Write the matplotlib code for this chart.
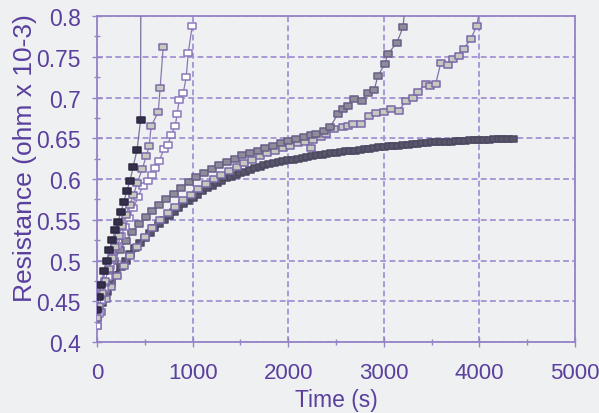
import matplotlib
matplotlib.use("Agg")
import matplotlib.pyplot as plt
from matplotlib.path import Path
from matplotlib.ticker import MultipleLocator

plt.rcParams['font.family'] = ['Liberation Sans', 'DejaVu Sans']

# series A: dark filled squares, fails before 500 s
a_time = [0, 20, 45, 70, 100, 130, 160, 190, 220, 250, 280, 310, 346, 377, 419, 455, 472]
a_res = [0.44, 0.456, 0.47, 0.487, 0.5, 0.513, 0.525, 0.537, 0.548, 0.56, 0.572, 0.585,
         0.598, 0.615, 0.636, 0.672, 1.5]

# series B: grey filled squares, ends near 700 s
b_time = [0, 25, 55, 85, 120, 155, 190, 225, 260, 300, 340, 380, 420, 472, 514, 545, 566,
          640, 660, 692]
b_res = [0.43, 0.445, 0.46, 0.475, 0.49, 0.503, 0.517, 0.53, 0.543, 0.556, 0.568, 0.58,
         0.595, 0.612, 0.628, 0.64, 0.665, 0.682, 0.712, 0.762]

# series C: open squares, ends near 1000 s
c_time = [0, 20, 45, 75, 110, 140, 170, 210, 250, 290, 330, 380, 430, 480, 530, 570, 610,
          650, 700, 740, 776, 818, 838, 860, 902, 933, 954, 996]
c_res = [0.42, 0.435, 0.45, 0.465, 0.48, 0.493, 0.505, 0.518, 0.53, 0.541, 0.552, 0.565,
         0.578, 0.592, 0.598, 0.605, 0.613, 0.622, 0.637, 0.642, 0.654, 0.665, 0.68, 0.697,
         0.706, 0.725, 0.755, 0.788]

# series D: dense dark squares, levels off around 0.65
d_time = [0, 50, 100, 150, 200, 250, 300, 350, 400, 450, 500, 550, 600, 650, 700, 750,
          800, 850, 900, 950, 1000, 1050, 1100, 1150, 1200, 1250, 1300, 1350, 1400, 1450,
          1500, 1550, 1600, 1650, 1700, 1750, 1800, 1850, 1900, 1950, 2000, 2050, 2100,
          2150, 2200, 2250, 2300, 2350, 2400, 2450, 2500, 2550, 2600, 2650, 2700, 2750,
          2800, 2850, 2900, 2950, 3000, 3050, 3100, 3150, 3200, 3250, 3300, 3350, 3400,
          3450, 3500, 3550, 3600, 3650, 3700, 3750, 3800, 3850, 3900, 3950, 4000, 4050,
          4100, 4150, 4200, 4250, 4300, 4350]
d_res = [0.430, 0.448, 0.462, 0.473, 0.483, 0.492, 0.500, 0.508, 0.515, 0.522, 0.528,
         0.534, 0.540, 0.545, 0.550, 0.555, 0.560, 0.565, 0.569, 0.573, 0.577, 0.581,
         0.585, 0.589, 0.592, 0.595, 0.598, 0.601, 0.603, 0.605, 0.607, 0.609, 0.611,
         0.613, 0.615, 0.617, 0.618, 0.620, 0.621, 0.622, 0.623, 0.624, 0.625, 0.626,
         0.627, 0.628, 0.629, 0.630, 0.631, 0.632, 0.632, 0.633, 0.634, 0.635, 0.635,
         0.636, 0.637, 0.637, 0.638, 0.639, 0.639, 0.640, 0.641, 0.641, 0.642, 0.642,
         0.643, 0.643, 0.644, 0.644, 0.645, 0.645, 0.646, 0.646, 0.646, 0.647, 0.647,
         0.647, 0.648, 0.648, 0.648, 0.648, 0.648, 0.649, 0.649, 0.649, 0.649, 0.649]

# series E: medium grey squares, fails near 3200 s
e_time = [0, 40, 80, 130, 180, 240, 300, 370, 440, 510, 580, 650, 720, 800, 880, 960,
          1040, 1120, 1200, 1280, 1360, 1440, 1520, 1600, 1680, 1760, 1840, 1920, 2000,
          2080, 2160, 2240, 2290, 2370, 2440, 2520, 2570, 2630, 2690, 2770, 2830, 2900,
          2935, 3010, 3040, 3135, 3200, 3230]
e_res = [0.44, 0.458, 0.472, 0.487, 0.5, 0.513, 0.524, 0.535, 0.545, 0.553, 0.561, 0.568,
         0.575, 0.582, 0.589, 0.596, 0.602, 0.607, 0.612, 0.617, 0.621, 0.625, 0.629,
         0.632, 0.635, 0.638, 0.641, 0.644, 0.647, 0.649, 0.651, 0.654, 0.655, 0.659,
         0.664, 0.68, 0.686, 0.69, 0.698, 0.696, 0.705, 0.709, 0.726, 0.741, 0.753, 0.767,
         0.786, 0.82]

# series F: light squares with purple edge, fails near 4000 s
f_time = [0, 40, 90, 150, 210, 280, 350, 420, 500, 580, 660, 740, 820, 900, 980, 1060,
          1140, 1220, 1300, 1380, 1460, 1540, 1620, 1700, 1780, 1860, 1940, 2020, 2100,
          2180, 2233, 2260, 2340, 2400, 2474, 2568, 2620, 2673, 2757, 2841, 2914, 2998,
          3071, 3155, 3228, 3302, 3354, 3438, 3480, 3543, 3595, 3669, 3721, 3784, 3836,
          3910, 3973, 4020]
f_res = [0.42, 0.437, 0.453, 0.468, 0.481, 0.494, 0.506, 0.517, 0.529, 0.54, 0.55, 0.558,
         0.566, 0.574, 0.581, 0.588, 0.594, 0.6, 0.605, 0.61, 0.615, 0.62, 0.624, 0.628,
         0.632, 0.635, 0.638, 0.641, 0.644, 0.646, 0.638, 0.648, 0.651, 0.655, 0.661,
         0.664, 0.665, 0.667, 0.667, 0.677, 0.681, 0.682, 0.686, 0.683, 0.696, 0.699,
         0.707, 0.717, 0.714, 0.717, 0.742, 0.74, 0.747, 0.751, 0.76, 0.772, 0.788, 0.82]

bg = '#eef0f1'
purple = '#5a3f9e'
axis_col = '#9583c6'

# slightly wide square marker, like the scanned original
rect = Path([(-1.15, -0.85), (1.15, -0.85), (1.15, 0.85), (-1.15, 0.85), (-1.15, -0.85)],
            [Path.MOVETO, Path.LINETO, Path.LINETO, Path.LINETO, Path.CLOSEPOLY])

fig = plt.figure(figsize=(5.99, 4.14), dpi=100, facecolor=bg)
ax = fig.add_axes([0.162, 0.171, 0.798, 0.788], facecolor=bg)

line_kw = dict(marker=rect, markersize=5.5, markeredgewidth=1.1)
# the dense run reads as one thick band
ax.plot(d_time, d_res, color='#55526a', linewidth=3.5, markerfacecolor='#58566a',
        markeredgecolor='#4c4862', zorder=3, **line_kw)
ax.plot(f_time, f_res, color='#8472b0', linewidth=0.9, markerfacecolor='#c6c9bd',
        markeredgecolor='#7a68a8', zorder=4, **line_kw)
ax.plot(e_time, e_res, color='#7a6e98', linewidth=0.9, markerfacecolor='#8e8c98',
        markeredgecolor='#6a5e88', zorder=5, **line_kw)
ax.plot(c_time, c_res, color='#8a78ba', linewidth=0.9, markerfacecolor='white',
        markeredgecolor='#8a78ba', zorder=6, **line_kw)
ax.plot(b_time, b_res, color='#8a78b0', linewidth=0.9, markerfacecolor='#c8cac0',
        markeredgecolor='#7c6aa8', zorder=7, **line_kw)
ax.plot(a_time, a_res, color='#7c70a0', linewidth=0.9, markerfacecolor='#34304a',
        markeredgecolor='#2c2840', zorder=8, **line_kw)

ax.set_xlim(0, 5000)
ax.set_ylim(0.4, 0.8)
ax.xaxis.set_major_locator(MultipleLocator(1000))
ax.xaxis.set_minor_locator(MultipleLocator(500))
ax.yaxis.set_major_locator(MultipleLocator(0.05))
ax.yaxis.set_minor_locator(MultipleLocator(0.025))
ax.set_yticks([0.4, 0.45, 0.5, 0.55, 0.6, 0.65, 0.7, 0.75, 0.8])
ax.set_yticklabels(['0.4', '0.45', '0.5', '0.55', '0.6', '0.65', '0.7', '0.75', '0.8'])

ax.grid(True, which='major', color='#a898d8', linestyle=(0, (3, 1.7)), linewidth=1.4)
ax.set_axisbelow(True)
for s in ax.spines.values():
    s.set_color(axis_col)
    s.set_linewidth(1.3)

ax.tick_params(which='major', direction='inout', length=7, width=1, color=axis_col,
               labelcolor=purple)
ax.tick_params(which='minor', direction='inout', length=5, width=1, color=axis_col)
ax.tick_params(axis='y', which='major', labelsize=16.5, pad=8)
ax.tick_params(axis='x', which='major', labelsize=16, pad=11)

ax.set_xlabel('Time (s)', fontsize=16.5, color=purple)
ax.xaxis.set_label_coords(0.5, -0.141)
ax.set_ylabel('Resistance (ohm x 10-3)', fontsize=19, color=purple)
ax.yaxis.set_label_coords(-0.126, 0.567)

fig.savefig('out.png', dpi=100, facecolor=bg)
